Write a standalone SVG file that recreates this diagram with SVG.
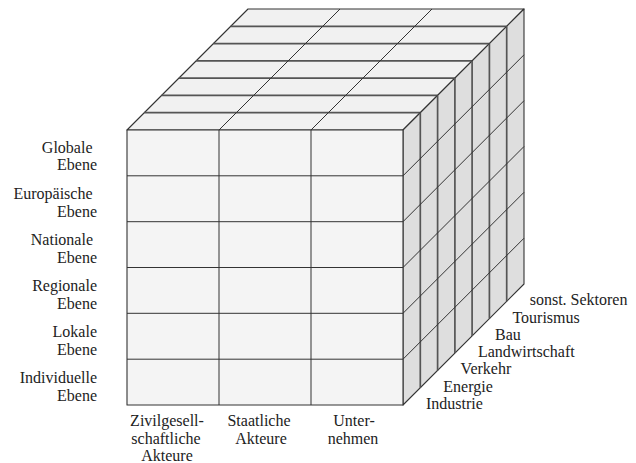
<svg xmlns="http://www.w3.org/2000/svg" width="636" height="463" viewBox="0 0 636 463">
<style>
.t{font-family:'Liberation Serif','Times New Roman',Times,serif;font-size:16px;fill:#222}
.face{stroke:#333;stroke-width:1.1;stroke-linejoin:round}
.front{fill:#f4f4f4}
.top{fill:#f1f1f1}
.side{fill:#dedede}
.g{stroke:#333;stroke-width:1;fill:none}
.slab{stroke:#555;stroke-width:1.7;fill:none}
.r{text-anchor:end}
.c{text-anchor:middle}
</style>
<g id="cube">
  <g id="top-face">
    <polygon class="face top" points="127,130 248,9 524,9 403,130"/>
    <path class="slab" d="M144.3,112.7H420.3M161.6,95.4H437.6M178.9,78.1H454.9M196.1,60.9H472.1M213.4,43.6H489.4M230.7,26.3H506.7"/>
    <path class="g" d="M219,130L340,9M311,130L432,9"/>
  </g>
  <g id="side-face">
    <polygon class="face side" points="403,130 524,9 524,284 403,405"/>
    <path class="slab" d="M420.3,112.7V387.7M437.6,95.4V370.4M454.9,78.1V353.1M472.1,60.9V335.9M489.4,43.6V318.6M506.7,26.3V301.3"/>
    <path class="g" d="M403,175.8L524,54.8M403,221.7L524,100.7M403,267.5L524,146.5M403,313.3L524,192.3M403,359.2L524,238.2"/>
  </g>
  <g id="front-face">
    <rect class="face front" x="127" y="130" width="276" height="275"/>
    <path class="g" d="M219,130V405M311,130V405M127,175.8H403M127,221.7H403M127,267.5H403M127,313.3H403M127,359.2H403"/>
  </g>
</g>
<g id="levels" class="t" font-family="Liberation Serif, serif">
  <text class="r" x="92.5" y="152.5">Globale</text><text class="r" x="97" y="170">Ebene</text>
  <text class="r" x="92.5" y="199">Europäische</text><text class="r" x="97" y="216.5">Ebene</text>
  <text class="r" x="93" y="245">Nationale</text><text class="r" x="97" y="262.5">Ebene</text>
  <text class="r" x="97" y="291">Regionale</text><text class="r" x="97" y="308.5">Ebene</text>
  <text class="r" x="97" y="337">Lokale</text><text class="r" x="97" y="354.5">Ebene</text>
  <text class="r" x="97" y="383">Individuelle</text><text class="r" x="97" y="400.5">Ebene</text>
</g>
<g id="actors" class="t" font-family="Liberation Serif, serif">
  <text class="c" x="167" y="426">Zivilgesell-</text>
  <text class="c" x="166" y="443.5">schaftliche</text>
  <text class="c" x="167" y="461">Akteure</text>
  <text class="c" x="259" y="426">Staatliche</text>
  <text class="c" x="261" y="443.5">Akteure</text>
  <text class="c" x="354" y="426">Unter-</text>
  <text class="c" x="353" y="443.5">nehmen</text>
</g>
<g id="sectors" class="t" font-family="Liberation Serif, serif">
  <text x="426" y="409">Industrie</text>
  <text x="443.3" y="391.7">Energie</text>
  <text x="460.6" y="374.4">Verkehr</text>
  <text x="477.9" y="357.1">Landwirtschaft</text>
  <text x="495.1" y="339.9">Bau</text>
  <text x="512.4" y="322.6">Tourismus</text>
  <text x="529.7" y="305.3">sonst. Sektoren</text>
</g>
</svg>
